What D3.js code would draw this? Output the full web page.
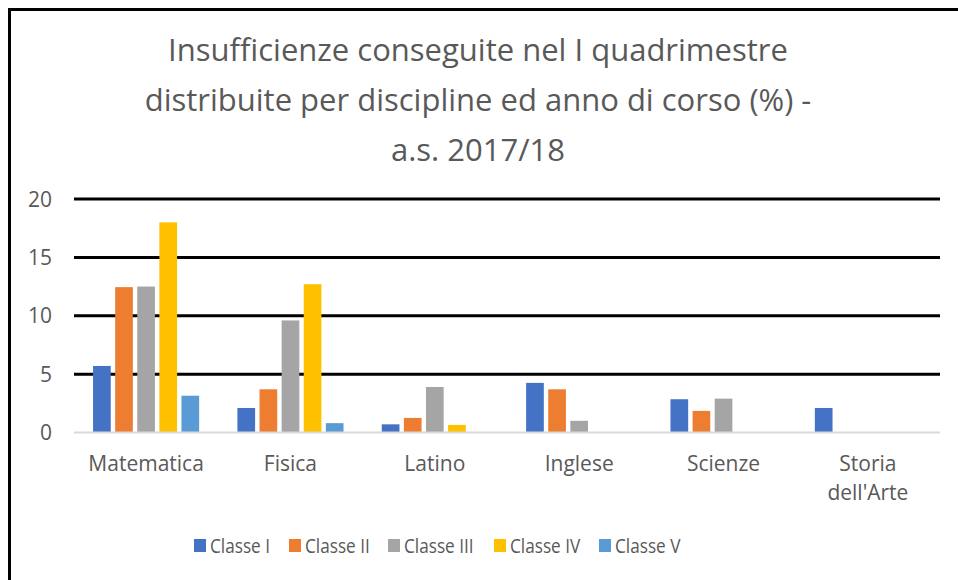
<html>
<head>
    <script src="https://d3js.org/d3.v7.min.js"></script>
    <style>
        body { margin: 0; background: #fff; }
        text { font-family: "Open Sans", sans-serif; }
    </style>
</head>
<body>
    <svg id="chart" width="958" height="580"></svg>
    <script>
        const subjects = ["Matematica", "Fisica", "Latino", "Inglese", "Scienze", "Storia dell'Arte"];
        const series = ["Classe I", "Classe II", "Classe III", "Classe IV", "Classe V"];
        const classeI   = [5.7, 2.1, 0.7, 4.25, 2.85, 2.1];
        const classeII  = [12.45, 3.7, 1.25, 3.7, 1.85, 0];
        const classeIII = [12.5, 9.6, 3.9, 1.0, 2.9, 0];
        const classeIV  = [18.0, 12.7, 0.65, 0, 0, 0];
        const classeV   = [3.15, 0.8, 0, 0, 0, 0];
        const yTicks = [0, 5, 10, 15, 20];
        const titleLines = ["Insufficienze conseguite nel I quadrimestre",
                            "distribuite per discipline ed anno di corso (%) -",
                            "a.s. 2017/18"];

        const values = [classeI, classeII, classeIII, classeIV, classeV];
        const colors = ["#4472C4", "#ED7D31", "#A5A5A5", "#FFC000", "#5B9BD5"];

        const svg = d3.select('#chart');

        // chart frame (only top/left visible in the crop)
        svg.append('rect')
           .attr('x', 9.5).attr('y', 9.5)
           .attr('width', 970).attr('height', 600)
           .attr('fill', 'none').attr('stroke', '#000').attr('stroke-width', 3);

        const title = svg.append('text')
           .attr('text-anchor', 'middle')
           .attr('fill', '#595959')
           .attr('font-size', '31px');
        titleLines.forEach((t, i) => {
            title.append('tspan').attr('x', 478).attr('y', 61 + i * 50).text(t);
        });

        const left = 74, right = 940;
        const x0 = d3.scaleBand().domain(subjects).range([left, right]).paddingInner(0.265).paddingOuter(0.132);
        const x1 = d3.scaleBand().domain(series).range([0, x0.bandwidth()]).paddingInner(0.2).paddingOuter(0);
        const y = d3.scaleLinear().domain([0, 20]).range([432.5, 199]);

        // gridlines
        svg.append('g').selectAll('line')
           .data(yTicks.filter(d => d > 0))
           .enter().append('line')
           .attr('x1', left).attr('x2', right)
           .attr('y1', d => y(d)).attr('y2', d => y(d))
           .attr('stroke', '#000').attr('stroke-width', 3);

        // y labels
        svg.append('g').selectAll('text')
           .data(yTicks)
           .enter().append('text')
           .attr('x', 52).attr('y', d => y(d))
           .attr('dy', '0.36em')
           .attr('text-anchor', 'end')
           .attr('fill', '#595959')
           .attr('font-size', '21px')
           .text(d => d);

        // bars
        const groups = svg.append('g').selectAll('g')
           .data(series)
           .enter().append('g')
           .attr('fill', (d, i) => colors[i]);
        groups.selectAll('rect')
           .data((s, i) => subjects.map((sub, j) => ({ sub, s, v: values[i][j] })).filter(d => d.v > 0))
           .enter().append('rect')
           .attr('x', d => x0(d.sub) + x1(d.s))
           .attr('width', x1.bandwidth())
           .attr('y', d => y(d.v))
           .attr('height', d => y(0) - y(d.v));

        // baseline
        svg.append('line')
           .attr('x1', left).attr('x2', right)
           .attr('y1', y(0)).attr('y2', y(0))
           .attr('stroke', '#d9d9d9').attr('stroke-width', 2);

        // x labels
        const xl = svg.append('g').selectAll('text')
           .data(subjects)
           .enter().append('text')
           .attr('text-anchor', 'middle')
           .attr('fill', '#595959')
           .attr('font-size', '21px');
        xl.each(function(d) {
            const cx = x0(d) + x0.bandwidth() / 2;
            const parts = d === "Storia dell'Arte" ? ["Storia", "dell'Arte"] : [d];
            parts.forEach((p, i) => {
                d3.select(this).append('tspan').attr('x', cx).attr('y', 471 + i * 29).text(p);
            });
        });

        // legend
        const legendX = [194, 289, 388, 494, 599];
        const legend = svg.append('g').selectAll('g')
           .data(series)
           .enter().append('g')
           .attr('transform', (d, i) => `translate(${legendX[i]}, 546)`);
        legend.append('rect')
           .attr('x', 0).attr('y', -7)
           .attr('width', 12).attr('height', 13)
           .attr('fill', (d, i) => colors[i]);
        legend.append('text')
           .attr('transform', 'translate(16, 0) scale(0.86, 1)')
           .attr('dy', '0.36em')
           .attr('fill', '#595959')
           .attr('font-size', '20px')
           .text(d => d);
    </script>
</body>
</html>
